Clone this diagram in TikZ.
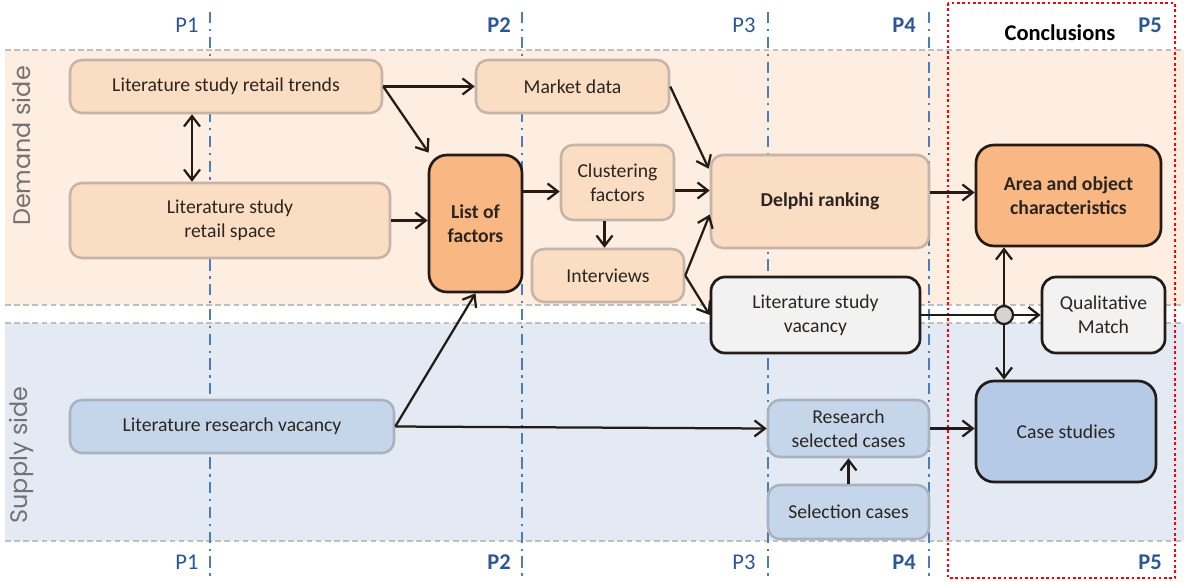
\documentclass[tikz,border=0pt]{standalone}
\usepackage{fontspec}
\setmainfont{Carlito}
\newfontfamily\sidefont{Poppins}
\usetikzlibrary{arrows.meta,calc}
\definecolor{demandfill}{HTML}{FDEEE1}
\definecolor{supplyfill}{HTML}{E4EAF4}
\definecolor{bandline}{HTML}{BFBFBF}
\definecolor{phaseline}{HTML}{4A7EBB}
\definecolor{phasetext}{HTML}{2B5797}
\definecolor{peach}{HTML}{FBDDC3}
\definecolor{orangebox}{HTML}{F9B784}
\definecolor{bluebox}{HTML}{C6D6EA}
\definecolor{casebox}{HTML}{B5CAE7}
\definecolor{graybox}{HTML}{F2F2F2}
\definecolor{lightedge}{HTML}{C5B5A8}
\definecolor{blueedge}{HTML}{A9B3BF}
\definecolor{darkedge}{HTML}{231B15}
\definecolor{arrcol}{HTML}{231B15}
\definecolor{txt}{HTML}{2A2520}
\begin{document}
\begin{tikzpicture}[x=0.025cm,y=-0.025cm,
  font=\fontsize{14}{17}\selectfont,
  wh/.style 2 args={minimum width=#1*0.025cm,minimum height=#2*0.025cm},
  lightbox/.style={draw=lightedge,line width=1.8pt,rounded corners=0.3cm,fill=peach,align=center,inner sep=0pt,text=txt},
  bluenode/.style={draw=blueedge,line width=1.8pt,rounded corners=0.3cm,fill=bluebox,align=center,inner sep=0pt,text=txt},
  darkbox/.style={draw=darkedge,line width=1.9pt,rounded corners=0.45cm,align=center,inner sep=0pt,text=txt},
  arr/.style={draw=arrcol,line width=1.6pt,-{Straight Barb[length=2.6mm,width=4mm]}},
  biarr/.style={draw=arrcol,line width=1.6pt,{Straight Barb[length=2.6mm,width=4mm]}-{Straight Barb[length=2.6mm,width=4mm]}},
  plain/.style={draw=arrcol,line width=1.6pt},
  bandedge/.style={draw=bandline,line width=1pt,dash pattern=on 4pt off 2.5pt},
  phase/.style={draw=phaseline,line width=1.6pt,dash pattern=on 8pt off 4pt on 1.6pt off 4pt},
  plabel/.style={text=phasetext,font=\fontsize{16}{18}\selectfont},
  pbold/.style={text=phasetext,font=\bfseries\fontsize{16}{18}\selectfont},
  sidelabel/.style={rotate=90,text=black!55,font=\sidefont\fontsize{17}{17}\selectfont}
]
\useasboundingbox (0,0) rectangle (1184,581);
% bands
\fill[demandfill] (5,50) rectangle (1184,305);
\fill[supplyfill] (5,323) rectangle (1184,541);
\draw[bandedge] (5,50) -- (1184,50);
\draw[bandedge] (5,305) -- (1184,305);
\draw[bandedge] (5,323) -- (1184,323);
\draw[bandedge] (5,541) -- (1184,541);
% phase lines
\foreach \x in {210,522,768,929} \draw[phase] (\x,12) -- (\x,578);
% conclusions frame
\draw[red,line width=1.9pt,dash pattern=on 1.9pt off 1.9pt] (948,3) rectangle (1175,578);
% labels
\node[plabel] (p1t) at (187,25) {P1};
\node[pbold]  (p2t) at (499,25) {P2};
\node[plabel] (p3t) at (744,25) {P3};
\node[pbold]  (p4t) at (904,25) {P4};
\node[pbold]  (p5t) at (1150,25) {P5};
\node[plabel] (p1b) at (187,562) {P1};
\node[pbold]  (p2b) at (499,562) {P2};
\node[plabel] (p3b) at (744,562) {P3};
\node[pbold]  (p4b) at (904,562) {P4};
\node[pbold]  (p5b) at (1150,562) {P5};
\node[font=\bfseries\fontsize{16}{18}\selectfont] (concl) at (1060,33) {Conclusions};
\node[sidelabel] (dside) at (22,146) {Demand side};
\node[sidelabel] (sside) at (22,455) {Supply side};
% nodes
\node[lightbox,wh={312}{53}] (trends) at (226,86.5) {Literature study retail trends};
\node[lightbox,wh={320}{75}] (space) at (230,220.5) {Literature study\\retail space};
\node[darkbox,fill=orangebox,wh={93}{137},font=\bfseries\fontsize{14}{17}\selectfont] (list) at (475.5,223.5) {List of\\factors};
\node[lightbox,wh={193}{53}] (market) at (572.5,86.5) {Market data};
\node[lightbox,wh={113}{75}] (clust) at (617.5,182.5) {Clustering\\factors};
\node[lightbox,wh={152}{53}] (interv) at (608,275.5) {Interviews};
\node[lightbox,wh={218}{93},font=\bfseries\fontsize{14}{17}\selectfont] (delphi) at (820,201.5) {Delphi ranking};
\node[darkbox,fill=graybox,wh={209}{76},rounded corners=0.35cm] (litvac) at (815.5,315) {Literature study\\vacancy};
\node[darkbox,fill=orangebox,wh={185}{101},font=\bfseries\fontsize{14}{17}\selectfont] (area) at (1068.5,195.5) {Area and object\\characteristics};
\node[darkbox,fill=graybox,wh={123}{76},rounded corners=0.35cm] (qual) at (1103.5,315) {Qualitative\\Match};
\node[darkbox,fill=casebox,wh={180}{101}] (case) at (1066,431.5) {Case studies};
\node[bluenode,wh={324}{53}] (litres) at (232,426.5) {Literature research vacancy};
\node[bluenode,wh={161}{57}] (research) at (848.5,428.5) {Research\\selected cases};
\node[bluenode,wh={161}{54}] (select) at (848.5,512) {Selection cases};
\node[circle,draw=darkedge,line width=1.6pt,fill=black!17,minimum size=0.45cm,inner sep=0pt] (junc) at (1004,315) {};
% connectors
\draw[biarr] ($(trends.south)+(-34,0)$) coordinate (a1) -- (a1 |- space.north);
\draw[arr] (trends.east) -- (market.west);
\draw[arr] (trends.east) -- ($(list.north west)+(1,-1)$);
\draw[arr] (space.east) -- (space.east -| list.west);
\draw[arr] (litres.east) -- (list.south);
\draw[arr] (litres.east) -- (research.west);
\draw[arr] ($(list.east)+(0,-32)$) coordinate (a2) -- (a2 -| clust.west);
\draw[arr] ($(clust.east)+(0,8)$) coordinate (a3) -- (a3 -| delphi.west);
\draw[arr] ($(clust.south)+(-13,0)$) coordinate (a4) -- (a4 |- interv.north);
\draw[arr] (market.east) -- ($(delphi.north west)+(-1,15)$);
\draw[arr] (interv.east) -- ($(delphi.west)+(0,13)$);
\draw[arr] (interv.east) -- (litvac.west);
\draw[arr] ($(delphi.east)+(0,-9)$) coordinate (a5) -- (a5 -| area.west);
\draw[plain] (litvac.east) -- (junc.west);
\draw[arr] (junc.east) -- (qual.west);
\draw[arr] (junc.north) -- (junc |- area.south);
\draw[arr] (junc.south) -- (junc |- case.north);
\draw[arr] (research.east) -- (research.east -| case.west);
\draw[arr] (select.north) -- (research.south);
\end{tikzpicture}
\end{document}
